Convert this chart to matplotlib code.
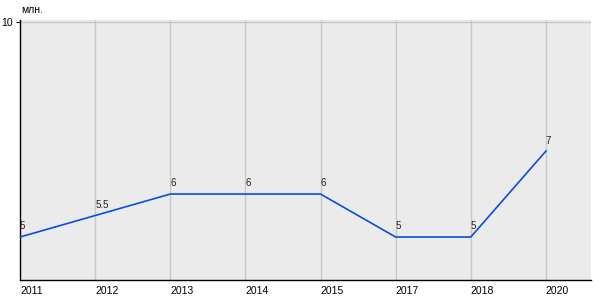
import matplotlib
matplotlib.use("Agg")
import matplotlib.pyplot as plt

plt.rcParams["font.family"] = ["Liberation Sans", "DejaVu Sans"]

# Data
years = ["2011", "2012", "2013", "2014", "2015", "2017", "2018", "2020"]
values = [5, 5.5, 6, 6, 6, 5, 5, 7]
labels = ["5", "5.5", "6", "6", "6", "5", "5", "7"]

fig = plt.figure(figsize=(6, 3), dpi=100)
ax = fig.add_axes([20 / 600, 20 / 300, 571 / 600, 260 / 300])
ax.set_facecolor("#ebebeb")

x = list(range(len(years)))
ax.plot(x, values, color="#0a4ee0", linewidth=1.2, zorder=3)

for xi, v, lab in zip(x, values, labels):
    ax.annotate(lab, (xi, v), xytext=(0, 4), textcoords="offset points",
                ha="left", va="bottom", fontsize=7, color="#222222")

ax.set_xlim(0, 7.6)
ax.set_ylim(4, 10.05)
ax.set_xticks(x)
ax.set_xticklabels(years, ha="left", fontsize=7.5)
ax.set_yticks([10])
ax.set_yticklabels(["10"], fontsize=7.5)
ax.tick_params(axis="x", length=0, pad=4)
ax.tick_params(axis="y", length=3, pad=2)

ax.grid(True, color="#c8c8c8", linewidth=1)
ax.set_axisbelow(True)
for s in ["top", "right"]:
    ax.spines[s].set_visible(False)
ax.spines["left"].set_linewidth(1)
ax.spines["bottom"].set_linewidth(1)

fig.text(21 / 600, 1 - 10 / 300, "млн.", fontsize=7.5, ha="left", va="center")

fig.savefig("out.png", dpi=100)
